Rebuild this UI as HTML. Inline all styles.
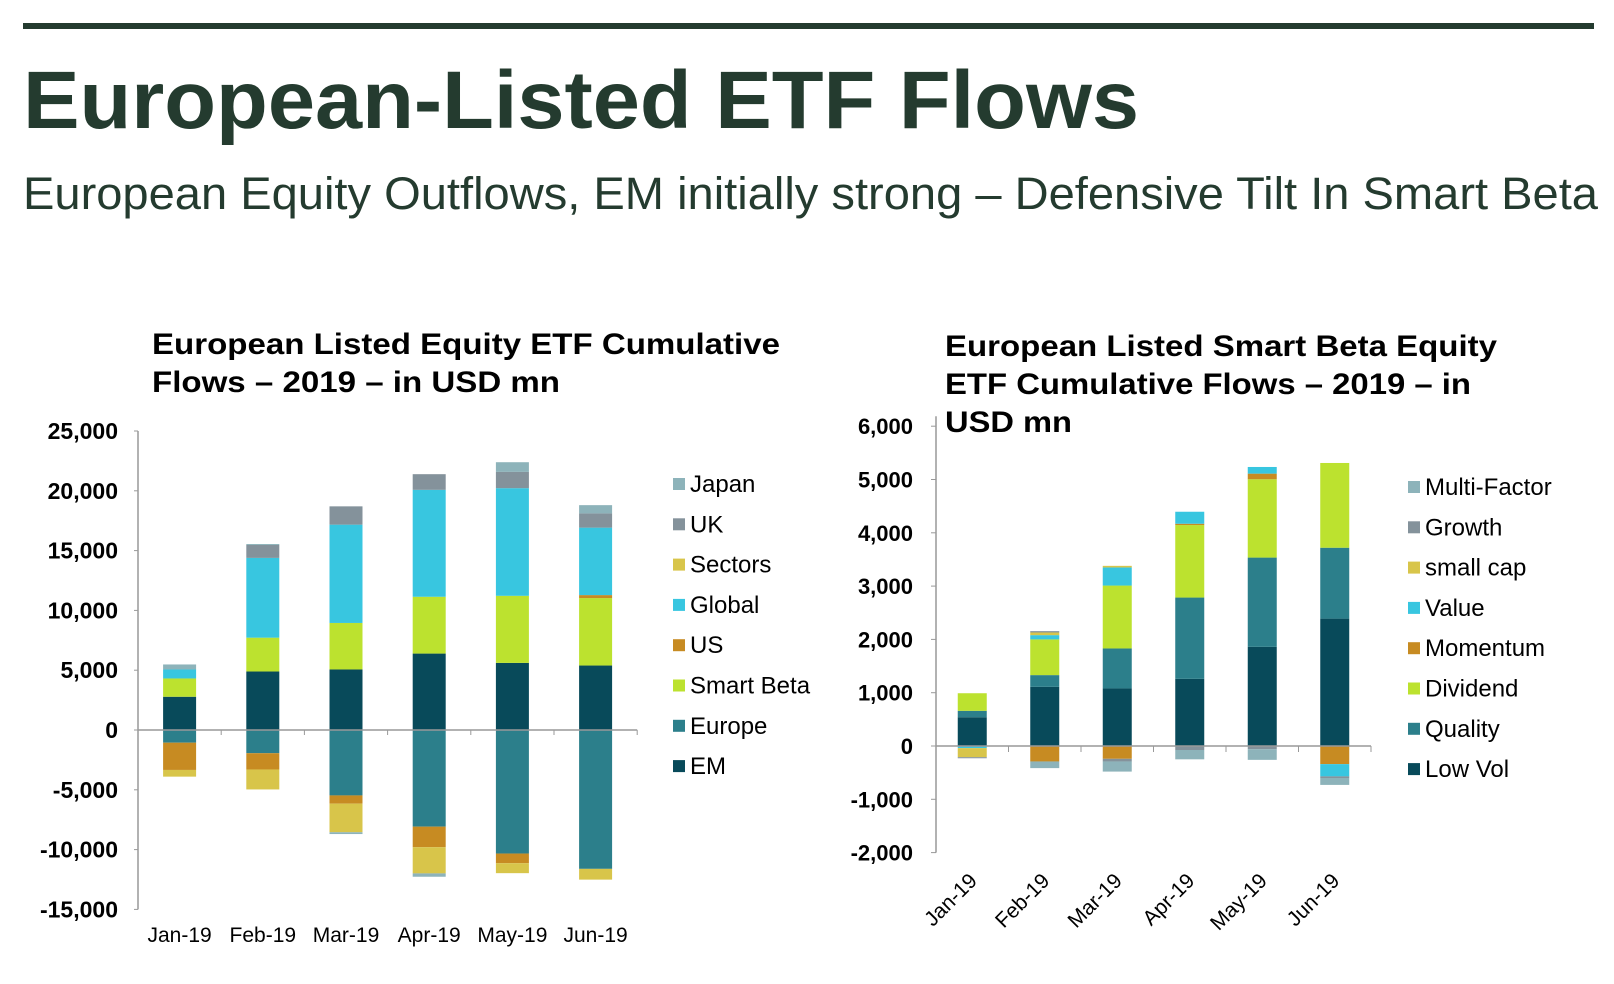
<!DOCTYPE html>
<html><head><meta charset="utf-8"><style>
html,body{margin:0;padding:0;background:#fff;}
svg{display:block;font-family:"Liberation Sans",sans-serif;}
</style></head><body>
<svg id="s" width="1614" height="984" viewBox="0 0 1614 984">
<rect x="23" y="23" width="1571" height="6" fill="#243b2f"/>
<text x="23" y="128" font-size="82" font-weight="bold" fill="#243b2f" textLength="1116" lengthAdjust="spacingAndGlyphs">European-Listed ETF Flows</text>
<text x="23" y="209" font-size="45" fill="#243b2f" textLength="1575" lengthAdjust="spacingAndGlyphs">European Equity Outflows, EM initially strong – Defensive Tilt In Smart Beta</text>
<g font-size="30" font-weight="bold" fill="#000">
<text x="152" y="354" textLength="628" lengthAdjust="spacingAndGlyphs">European Listed Equity ETF Cumulative</text>
<text x="152" y="392" textLength="408" lengthAdjust="spacingAndGlyphs">Flows – 2019 – in USD mn</text>
</g>
<g font-size="30" font-weight="bold" fill="#000">
<text x="945" y="356" textLength="552" lengthAdjust="spacingAndGlyphs">European Listed Smart Beta Equity</text>
<text x="945" y="394" textLength="526" lengthAdjust="spacingAndGlyphs">ETF Cumulative Flows – 2019 – in</text>
<text x="945" y="432" textLength="127" lengthAdjust="spacingAndGlyphs">USD mn</text>
</g>
<g id="L"></g>
<g id="R"></g>
</svg>
<script>
// ---- Left chart data ----
const lCats = ["Jan-19","Feb-19","Mar-19","Apr-19","May-19","Jun-19"];
const lSeries = ["EM","Europe","Smart Beta","US","Global","Sectors","UK","Japan"];
const lEM        = [2780, 4890, 5060, 6390, 5610, 5390];
const lEurope    = [-1060, -1940, -5470, -8080, -10330, -11610];
const lSmartBeta = [1530, 2830, 3890, 4750, 5610, 5640];
const lUS        = [-2280, -1360, -690, -1720, -810, 250];
const lGlobal    = [750, 6670, 8220, 8940, 9000, 5640];
const lSectors   = [-560, -1670, -2390, -2190, -830, -900];
const lUK        = [0, 1080, 1530, 1310, 1360, 1190];
const lJapan     = [420, 80, -150, -280, 810, 690];
const lTicks = [25000,20000,15000,10000,5000,0,-5000,-10000,-15000];
const lTickLabels = ["25,000","20,000","15,000","10,000","5,000","0","-5,000","-10,000","-15,000"];
// ---- Right chart data ----
const rCats = ["Jan-19","Feb-19","Mar-19","Apr-19","May-19","Jun-19"];
const rSeries = ["Low Vol","Quality","Dividend","Momentum","Value","small cap","Growth","Multi-Factor"];
const rLowVol   = [540, 1110, 1080, 1260, 1860, 2390];
const rQuality  = [120, 220, 750, 1525, 1675, 1330];
const rDividend = [330, 670, 1180, 1360, 1470, 1590];
const rMomentum = [0, -290, -240, 25, 105, -340];
const rValue    = [-40, 80, 340, 225, 125, -230];
const rSmallCap = [-170, 50, 30, 0, 0, 0];
const rGrowth   = [-20, 25, -50, -75, -60, -30];
const rMulti    = [0, -125, -190, -175, -200, -130];
const rTicks = [6000,5000,4000,3000,2000,1000,0,-1000,-2000];
const rTickLabels = ["6,000","5,000","4,000","3,000","2,000","1,000","0","-1,000","-2,000"];

const NS="http://www.w3.org/2000/svg";
function mk(parent,tag,attrs,txt){const e=document.createElementNS(NS,tag);for(const k in attrs)e.setAttribute(k,attrs[k]);if(txt!=null)e.textContent=txt;parent.appendChild(e);return e;}

// Left
(function(){
  const g=document.getElementById('L');
  const colors=["#084a5a","#2c7f8b","#bce22f","#c78b22","#38c6e0","#d8c54a","#84929b","#8db3ba"];
  const vals=[lEM,lEurope,lSmartBeta,lUS,lGlobal,lSectors,lUK,lJapan];
  const y0=730, per=59.8/5000, x0=138, cw=83.2, bw=33;
  const y=v=>y0-v*per, xc=i=>x0+cw*(i+0.5);
  lTicks.forEach((t,i)=>{
    const l=mk(g,'line',{x1:x0-4,x2:x0,y1:y(t),y2:y(t),stroke:'#999'});
    
    
    const tx=mk(g,'text',{x:118,y:y(t)+8,'text-anchor':'end','font-size':23,'font-weight':'bold'},lTickLabels[i]);
    
    
  });
  lCats.forEach((c,i)=>{
    let pos=0,neg=0;
    vals.forEach((s,k)=>{
      const v=s[i]; if(!v)return;
      let top,bot;
      if(v>0){bot=pos;pos+=v;top=pos;}else{top=neg;neg+=v;bot=neg;}
      const r=mk(g,'rect',{x:xc(i)-bw/2,y:y(top),width:bw,height:y(bot)-y(top),fill:colors[k]});
      
      
    });
    const tx=mk(g,'text',{x:xc(i),y:942,'text-anchor':'middle','font-size':21},c);
    
    
    const tk=mk(g,'line',{x1:x0+cw*(i+1),x2:x0+cw*(i+1),y1:y0,y2:y0+5,stroke:'#999'});
    
    
  });
  const ya=mk(g,'line',{x1:x0,x2:x0,y1:y(25000),y2:y(-15000),stroke:'#999','stroke-width':1.5});
  
  
  const xa=mk(g,'line',{x1:x0,x2:x0+cw*6,y1:y0,y2:y0,stroke:'#999','stroke-width':1.5});
  
  
  const order=[7,6,5,4,3,2,1,0];
  order.forEach((k,j)=>{
    const cy=484+j*40.3;
    const sq=mk(g,'rect',{x:673,y:cy-6,width:12,height:12,fill:colors[k]});
    
    
    const t=mk(g,'text',{x:690,y:cy+8,'font-size':24},lSeries[k]);
    
    
  });
})();

// Right
(function(){
  const g=document.getElementById('R');
  const colors=["#084a5a","#2c7f8b","#bce22f","#c78b22","#38c6e0","#d8c54a","#84929b","#8db3ba"];
  const vals=[rLowVol,rQuality,rDividend,rMomentum,rValue,rSmallCap,rGrowth,rMulti];
  const y0=746, per=53.3/1000, x0=936, cw=72.5, bw=29;
  const y=v=>y0-v*per, xc=i=>x0+cw*(i+0.5);
  rTicks.forEach((t,i)=>{
    const l=mk(g,'line',{x1:x0-5,x2:x0,y1:y(t),y2:y(t),stroke:'#999'});
    
    
    const tx=mk(g,'text',{x:913,y:y(t)+8,'text-anchor':'end','font-size':22,'font-weight':'bold'},rTickLabels[i]);
    
    
  });
  rCats.forEach((c,i)=>{
    let pos=0,neg=0;
    vals.forEach((s,k)=>{
      const v=s[i]; if(!v)return;
      let top,bot;
      if(v>0){bot=pos;pos+=v;top=pos;}else{top=neg;neg+=v;bot=neg;}
      const r=mk(g,'rect',{x:xc(i)-bw/2,y:y(top),width:bw,height:y(bot)-y(top),fill:colors[k]});
      
      
    });
    const px=xc(i)+6, py=882;
    const tx=mk(g,'text',{x:px,y:py,'text-anchor':'end','font-size':21,transform:'rotate(-45 '+px+' '+py+')'},c);
    
    
    const tk=mk(g,'line',{x1:x0+cw*(i+1),x2:x0+cw*(i+1),y1:y0,y2:y0+6,stroke:'#999'});
    
    
  });
  const ya=mk(g,'line',{x1:x0,x2:x0,y1:y(6000)-10,y2:y(-2000),stroke:'#999','stroke-width':1.5});
  
  
  const xa=mk(g,'line',{x1:x0,x2:x0+cw*6,y1:y0,y2:y0,stroke:'#999','stroke-width':1.5});
  
  
  const order=[7,6,5,4,3,2,1,0];
  order.forEach((k,j)=>{
    const cy=487+j*40.3;
    const sq=mk(g,'rect',{x:1408,y:cy-6,width:12,height:12,fill:colors[k]});
    
    
    const t=mk(g,'text',{x:1425,y:cy+8,'font-size':24},rSeries[k]);
    
    
  });
})();
</script>
</body></html>
